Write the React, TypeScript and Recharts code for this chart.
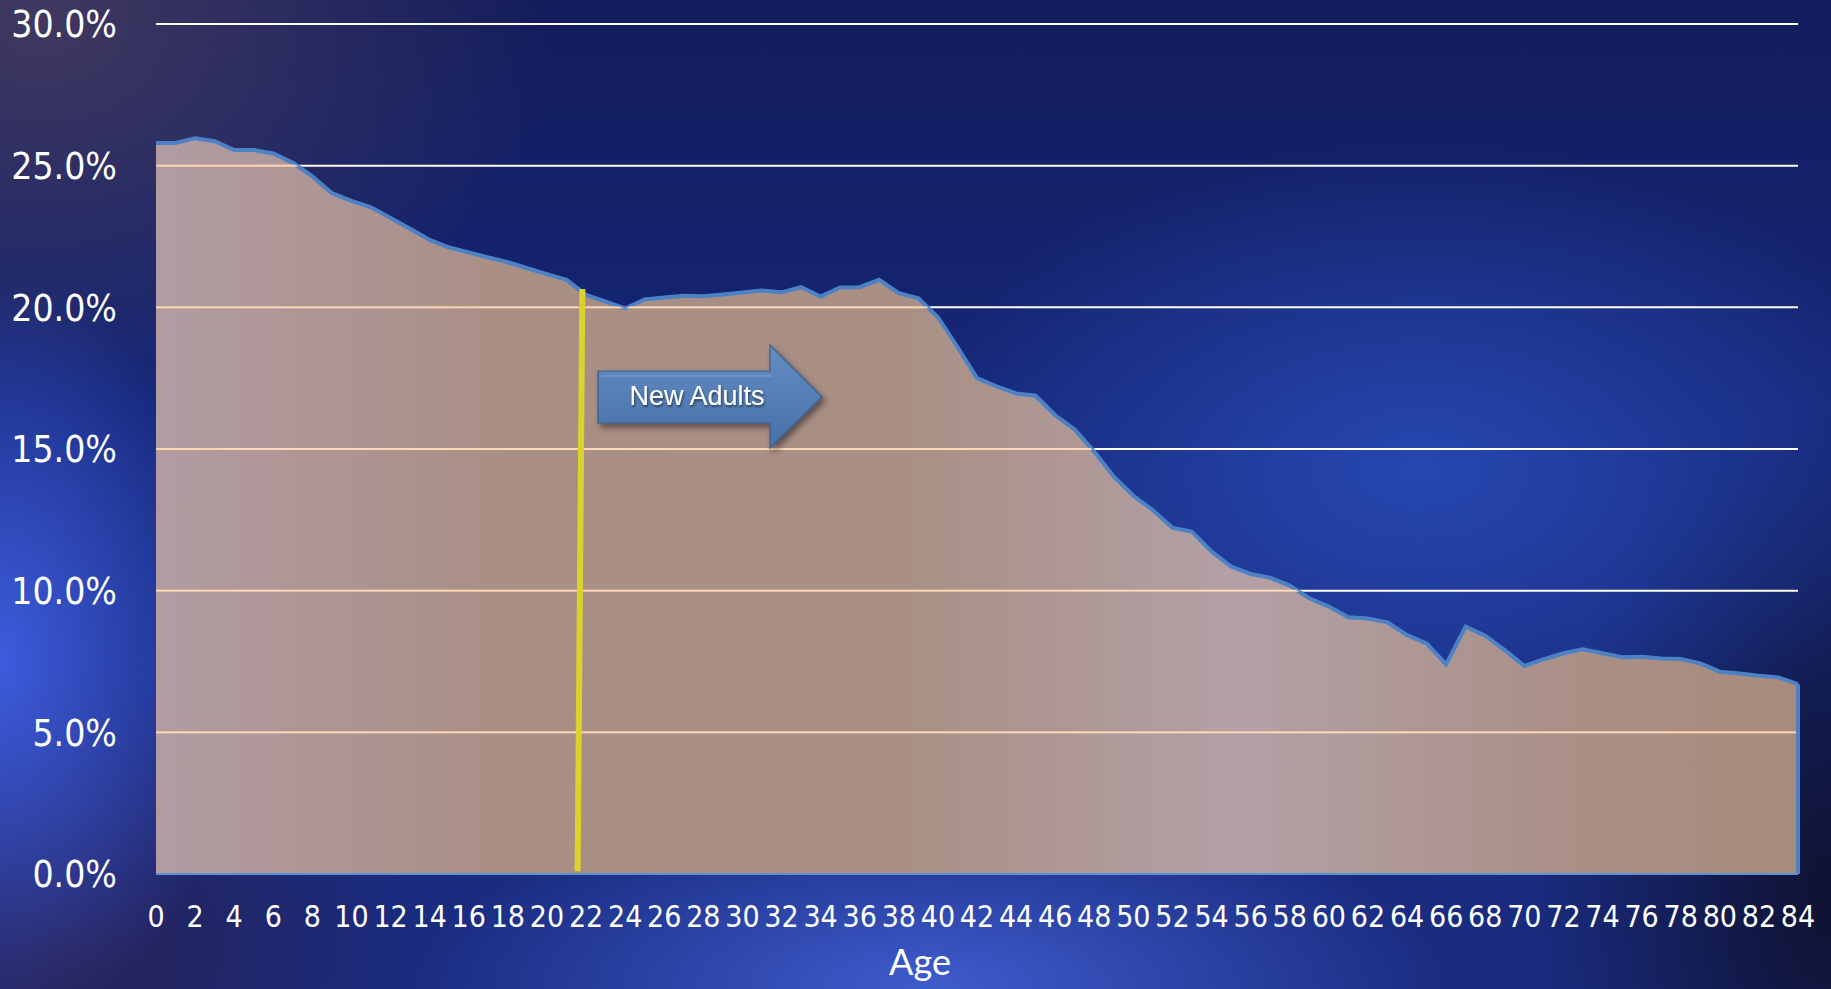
import { ComposedChart, Area, XAxis, YAxis, CartesianGrid, ReferenceLine } from "recharts"

const ages = [
  0, 1, 2, 3, 4, 5, 6, 7, 8, 9, 10, 11, 12, 13, 14, 15, 16, 17, 18, 19, 20,
  21, 22, 23, 24, 25, 26, 27, 28, 29, 30, 31, 32, 33, 34, 35, 36, 37, 38, 39, 40,
  41, 42, 43, 44, 45, 46, 47, 48, 49, 50, 51, 52, 53, 54, 55, 56, 57, 58, 59, 60,
  61, 62, 63, 64, 65, 66, 67, 68, 69, 70, 71, 72, 73, 74, 75, 76, 77, 78, 79, 80,
  81, 82, 83, 84,
]

// share of population, percent
const shares = [
  25.8, 25.8, 25.97, 25.86, 25.55, 25.55, 25.43, 25.1, 24.62, 24.03,
  23.76, 23.53, 23.15, 22.77, 22.38, 22.11, 21.94, 21.76, 21.59, 21.38,
  21.17, 20.97, 20.44, 20.2, 19.96, 20.28, 20.35, 20.41, 20.39, 20.45,
  20.52, 20.59, 20.53, 20.71, 20.38, 20.7, 20.71, 20.97, 20.5, 20.32,
  19.65, 18.6, 17.5, 17.21, 16.96, 16.88, 16.19, 15.69, 14.9, 14.02,
  13.35, 12.84, 12.22, 12.08, 11.38, 10.85, 10.59, 10.46, 10.18, 9.73,
  9.44, 9.06, 9.02, 8.88, 8.43, 8.14, 7.4, 8.73, 8.41, 7.9,
  7.34, 7.58, 7.79, 7.93, 7.79, 7.65, 7.67, 7.61, 7.59, 7.43,
  7.14, 7.08, 7.0, 6.94, 6.7,
]

const xTicks = [
  0, 2, 4, 6, 8, 10, 12, 14, 16, 18, 20, 22, 24, 26, 28, 30, 32, 34, 36, 38, 40, 42,
  44, 46, 48, 50, 52, 54, 56, 58, 60, 62, 64, 66, 68, 70, 72, 74, 76, 78, 80, 82, 84,
]
const yTicks = [0, 5, 10, 15, 20, 25, 30]

const data = ages.map((age, i) => ({ age, share: shares[i] }))
const lastAge = ages[ages.length - 1]
const lastShare = shares[shares.length - 1]

const W = 1831
const H = 989
const TOP = 24
const BOTTOM_AXIS = 115
const PLOT_H = H - TOP - BOTTOM_AXIS
const NARROW = "'Liberation Sans Narrow', 'DejaVu Sans Condensed', Lato, sans-serif"

const bg = [
  "radial-gradient(ellipse 240px 380px at 0px 660px, rgba(66,98,232,0.9), rgba(66,98,232,0))",
  "radial-gradient(ellipse 520px 190px at 930px 985px, rgba(72,104,225,0.8), rgba(72,104,225,0))",
  "radial-gradient(ellipse 520px 330px at 1420px 470px, rgba(44,82,195,0.75), rgba(44,82,195,0))",
  "radial-gradient(ellipse 520px 380px at 40px 20px, rgba(66,58,96,0.95), rgba(66,58,96,0))",
  "radial-gradient(ellipse 360px 300px at 60px 960px, rgba(40,32,80,0.9), rgba(40,32,80,0))",
  "radial-gradient(ellipse 300px 500px at 1831px 900px, rgba(14,16,44,0.95), rgba(14,16,44,0))",
  "linear-gradient(180deg, #131c5c 0%, #16287a 45%, #1a2c80 100%)",
].join(", ")

const YTick = ({ x, y, payload }: any) => (
  <text x={x} y={y} dy="0.36em" textAnchor="end" fill="#fff" fontSize={37} fontFamily={NARROW}>
    {payload.value.toFixed(1) + "%"}
  </text>
)

const XTick = ({ x, y, payload }: any) => (
  <text x={x} y={y} dy="0.71em" textAnchor="middle" fill="#fff" fontSize={30} fontFamily={NARROW}>
    {payload.value}
  </text>
)

const AgeLabel = ({ viewBox }: any) => (
  <text x={920} y={viewBox.y + 101} textAnchor="middle" fill="#fff" fontSize={36} fontFamily="Lato, sans-serif">
    Age
  </text>
)

const NewAdultsArrow = () => (
  <svg width={W} height={H} style={{ position: "absolute", left: 0, top: 0, pointerEvents: "none" }}>
    <defs>
      <linearGradient id="arrowFill" x1="0" y1="0" x2="0" y2="1">
        <stop offset="0%" stopColor="#648dc4" />
        <stop offset="100%" stopColor="#4670a8" />
      </linearGradient>
      <filter id="arrowShadow" x="-20%" y="-20%" width="150%" height="160%">
        <feDropShadow dx={3} dy={4} stdDeviation={3} floodColor="#000" floodOpacity={0.45} />
      </filter>
      <filter id="textShadow" x="-10%" y="-30%" width="120%" height="160%">
        <feDropShadow dx={1} dy={2} stdDeviation={1.2} floodColor="#000" floodOpacity={0.5} />
      </filter>
    </defs>
    <path
      d="M598,371 H770 V345 L822,397 L770,448 V423 H598 Z"
      fill="url(#arrowFill)"
      stroke="#3a5c8c"
      strokeWidth={1.2}
      filter="url(#arrowShadow)"
    />
    <line x1={602} y1={376} x2={772} y2={376} stroke="#7d9fcc" strokeWidth={1.5} opacity={0.7} />
    <text
      x={697}
      y={405}
      textAnchor="middle"
      fill="#fff"
      fontSize={27}
      fontFamily="'Liberation Sans', Arial, sans-serif"
      filter="url(#textShadow)"
    >
      New Adults
    </text>
  </svg>
)

export default function App() {
  return (
    <div style={{ position: "absolute", left: 0, top: 0, width: W, height: H, backgroundImage: bg, backgroundColor: "#16237a" }}>
      <ComposedChart width={W} height={H} data={data} margin={{ top: TOP, right: 33, bottom: 0, left: 16 }}>
        <defs>
          <linearGradient id="areaFill" x1="0" y1="0" x2="1" y2="0">
            <stop offset="0%" stopColor="#b29ca2" />
            <stop offset="22%" stopColor="#a98e84" />
            <stop offset="45%" stopColor="#a98f84" />
            <stop offset="66%" stopColor="#b3a0a6" />
            <stop offset="85%" stopColor="#aa9088" />
            <stop offset="100%" stopColor="#a88b7b" />
          </linearGradient>
          <pattern id="innerGrid" patternUnits="userSpaceOnUse" x={0} y={TOP - 1} width={W} height={PLOT_H / 6}>
            <rect x={0} y={0} width={W} height={2} fill="#fdd7b6" />
          </pattern>
        </defs>
        <CartesianGrid horizontal vertical={false} stroke="#ffffff" strokeWidth={2} />
        <XAxis
          type="number"
          dataKey="age"
          domain={[0, 84]}
          ticks={xTicks}
          interval={0}
          height={BOTTOM_AXIS}
          axisLine={false}
          tickLine={false}
          tickSize={0}
          tickMargin={32}
          tick={<XTick />}
          label={<AgeLabel />}
        />
        <YAxis
          type="number"
          domain={[0, 30]}
          ticks={yTicks}
          width={140}
          axisLine={false}
          tickLine={false}
          tickSize={0}
          tickMargin={39}
          tick={<YTick />}
        />
        <Area
          type="linear"
          dataKey="share"
          fill="url(#areaFill)"
          fillOpacity={1}
          stroke="#4c82c5"
          strokeWidth={4}
          isAnimationActive={false}
        />
        <Area
          type="linear"
          dataKey="share"
          fill="url(#innerGrid)"
          fillOpacity={1}
          stroke="none"
          isAnimationActive={false}
        />
        <ReferenceLine
          segment={[{ x: lastAge, y: 0 }, { x: lastAge, y: lastShare }]}
          stroke="#4c82c5"
          strokeWidth={4}
        />
        <ReferenceLine y={0} stroke="#5a92d4" strokeWidth={2} />
        <ReferenceLine
          segment={[{ x: 21.57, y: 0.1 }, { x: 21.81, y: 20.65 }]}
          stroke="#dcd22c"
          strokeWidth={6}
        />
      </ComposedChart>
      <NewAdultsArrow />
    </div>
  )
}
